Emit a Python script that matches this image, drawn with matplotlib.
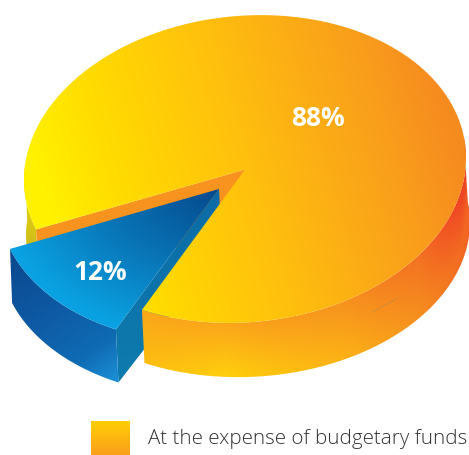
import numpy as np
import matplotlib
matplotlib.use("Agg")
import matplotlib.pyplot as plt
from matplotlib.colors import to_rgb
from matplotlib.path import Path
from matplotlib.patches import PathPatch

# Shares of the pie, in percent
categories = ["At the expense of budgetary funds", "Other"]
shares = [88, 12]
share_labels = ["88%", "12%"]

W, H = 469, 455
fig = plt.figure(figsize=(W / 100, H / 100), dpi=100)
ax = fig.add_axes([0, 0, 1, 1])
ax.set_axis_off()

# Pixel grid used for the gradient fills
xs = np.linspace(0, W, W * 2)
ys = np.linspace(0, H, H * 2)
X, Y = np.meshgrid(xs, ys)

# Ellipses of the top and bottom faces: centre x, centre y, radii, shear
TOP = (245, 169, 221, 153.5, 0.05)
BOT = (248, 229, 222, 148, 0.03)
EXPLODE = (-26, 19.5)
START = 117.8
slice_end = START + shares[1] / 100 * 360


def arc(ell, t0, t1, n=240, shift=(0, 0)):
    cx, cy, a, b, k = ell
    t = np.radians(np.linspace(t0, t1, n))
    dx = a * np.cos(t)
    return np.column_stack([cx + dx + shift[0], cy + b * np.sin(t) - k * dx + shift[1]])


def ramp(s, stops):
    pos = [p for p, _ in stops]
    cols = np.array([to_rgb(c) for _, c in stops])
    return np.stack([np.interp(s, pos, cols[:, i]) for i in range(3)], axis=-1)


def fill(poly, rgb, z):
    patch = PathPatch(Path(np.vstack([poly, poly[:1]])), facecolor="none", edgecolor="none",
                      transform=ax.transData)
    ax.add_patch(patch)
    im = ax.imshow(rgb, extent=(0, W, H, 0), origin="upper", aspect="auto",
                   interpolation="bilinear", zorder=z)
    im.set_clip_path(patch)


def flat(colour):
    return np.array(to_rgb(colour))[None, None, :]


apex = np.array([[245.0, 169.5]])
apex_low = np.array([[248.0, 229.0]])

# Inner cut face of the large slice, seen behind the pulled-out one
rim_pt = arc(TOP, slice_end, slice_end, 1)
low_pt = arc(BOT, slice_end, slice_end, 1)
fill(np.vstack([apex, rim_pt, low_pt, apex_low]), flat("#F7931E"), 1)

# Short stretch of outer wall on the far left
left_wall = np.vstack([arc(TOP, slice_end, 186), arc(BOT, 186, slice_end)])
fill(left_wall, ramp(Y, [(190, "#E8D60A"), (250, "#CDBB1C")]), 2)

# Pulled-out slice: straight side wall, curved wall, top face
bl_apex = apex + EXPLODE
bl_low = apex_low + EXPLODE
bl_rim_a = arc(TOP, START, START, 1, EXPLODE)
bl_low_a = arc(BOT, START, START, 1, EXPLODE)
fill(np.vstack([bl_apex, bl_low, bl_low_a, bl_rim_a]),
     ramp(Y, [(190, "#0B6BA6"), (380, "#0E7BAE")]), 3)
fill(np.vstack([arc(TOP, START, slice_end, shift=EXPLODE), arc(BOT, slice_end, START, shift=EXPLODE)]),
     ramp(X + 1.5 * Y, [(400, "#0B4A90"), (520, "#0E5AA4"), (620, "#0F6BB4"), (680, "#1A8CD2")]), 4)
radial = np.hypot((X - bl_apex[0, 0]) / 222, (Y - bl_apex[0, 1]) / 153)
fill(np.vstack([bl_apex, arc(TOP, START, slice_end, shift=EXPLODE)]),
     ramp(radial, [(0, "#05498C"), (0.5, "#0872B4"), (1, "#0AA2E2")]), 5)

# Front wall of the large slice: colour runs across x and with depth below the rim
wall_top = ramp(X, [(140, "#FAA61A"), (225, "#FBA51B"), (340, "#F7941E"), (420, "#F37022"), (466, "#EE3A24")])
wall_bot = ramp(X, [(140, "#FDBE12"), (225, "#FFD30A"), (350, "#FCB016"), (420, "#F68E1F"), (469, "#F26522")])
u = np.clip((X - TOP[0]) / TOP[2], -1, 1)
rim_y = TOP[1] + TOP[3] * np.sqrt(1 - u ** 2) - TOP[4] * (X - TOP[0])
v = np.clip((Y - rim_y) / 58.0, 0, 1)[..., None]
fill(np.vstack([arc(TOP, -8, START), arc(BOT, START, -8)]), wall_top * (1 - v) + wall_bot * v, 6)
ax.plot(*np.array([[372, 312], [398, 298]]).T, color="#C98B38", lw=0.8, alpha=0.7, zorder=6.5)

# Top face of the large slice
s = X - 0.3 * Y
fill(np.vstack([apex, arc(TOP, slice_end, START + 360, 480)]),
     ramp(s, [(-16, "#FFF200"), (60, "#FFDC00"), (200, "#FFBF0E"), (349, "#F99D1C"), (412, "#F68B1F")]), 7)

# Value labels
label_font = dict(family="Open Sans", weight="bold", color="white", ha="center", va="center", zorder=10)
ax.text(318, 118, share_labels[0], fontsize=19, **label_font)
ax.text(100, 273, share_labels[1], fontsize=19, **label_font)

# Legend
swatch = np.array([[91, 421], [130, 421], [130, 455], [91, 455]], float)
fill(swatch, ramp(Y, [(421, "#FFCF06"), (455, "#FA9F1B")]), 8)
ax.text(148, 439, categories[0], family="Open Sans", weight="light", fontsize=14.75,
        color="#333333", ha="left", va="center", zorder=10)

ax.set_xlim(0, W)
ax.set_ylim(H, 0)
fig.savefig("out.png", dpi=100, facecolor="white")
